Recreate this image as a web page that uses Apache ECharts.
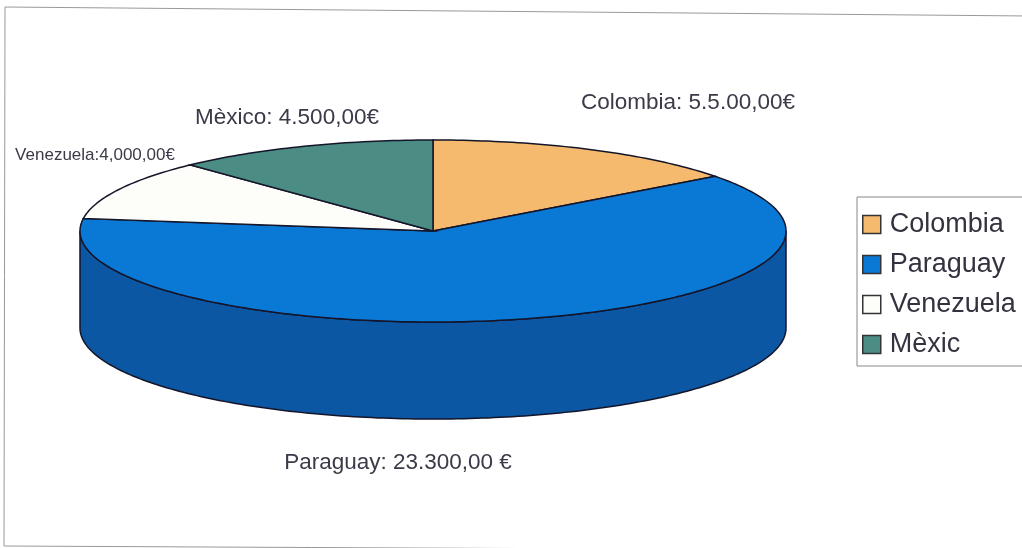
<!DOCTYPE html>
<html>
<head>
<meta charset="utf-8">
<script src="https://cdn.jsdelivr.net/npm/echarts@6/dist/echarts.min.js"></script>
<style>
  html, body { margin: 0; padding: 0; background: #fff; }
  #main { width: 1022px; height: 548px; }
</style>
</head>
<body>
<div id="main"></div>
<script>
// dades
const countries = ['Colombia', 'Paraguay', 'Venezuela', 'Mèxic'];
const amounts = [5500, 23300, 4000, 4500];
const labelTexts = ['Colombia: 5.5.00,00€', 'Paraguay: 23.300,00 €', 'Venezuela:4,000,00€', 'Mèxico: 4.500,00€'];

const topColors = ['#F5BA6E', '#0A79D6', '#FDFDF9', '#4B8C84'];
const sideColors = ['#C8924C', '#0B57A3', '#D8D8D0', '#356A63'];

// el·lipse del pastís 3D
const cx = 433, cy = 231, rx = 353, ry = 91, depth = 97;
const total = amounts.reduce((a, b) => a + b, 0);

function pt(deg, dy) {
  const t = deg * Math.PI / 180;
  return [cx + rx * Math.sin(t), cy - ry * Math.cos(t) + (dy || 0)];
}

function sliceRange(i) {
  let start = 0;
  for (let k = 0; k < i; k++) start += amounts[k] / total * 360;
  return [start, start + amounts[i] / total * 360];
}

function renderSlice(idx) {
  return function (params, api) {
    const [a0, a1] = sliceRange(idx);
    const children = [];
    // paret lateral (només la meitat de davant)
    const s = Math.max(a0, 90), e = Math.min(a1, 270);
    if (e > s) {
      const pts = [];
      for (let d = s; d <= e; d += 1) pts.push(pt(d));
      pts.push(pt(e));
      const back = [];
      for (let d = e; d >= s; d -= 1) back.push(pt(d, depth));
      back.push(pt(s, depth));
      children.push({
        type: 'polygon',
        shape: { points: pts.concat(back) },
        style: { fill: sideColors[idx], stroke: '#15152a', lineWidth: 1.5 }
      });
    }
    // cara de dalt
    const top = [[cx, cy]];
    for (let d = a0; d <= a1; d += 1) top.push(pt(d));
    top.push(pt(a1));
    children.push({
      type: 'polygon',
      shape: { points: top },
      style: { fill: topColors[idx], stroke: '#15152a', lineWidth: 1.5 }
    });
    return { type: 'group', children: children };
  };
}

const labelPos = [[688, 103], [398, 463], [95, 155], [287, 118]];
const labelSize = [22.5, 22.5, 17, 22.5];

let myChart = echarts.init(document.getElementById('main'));
myChart.setOption({
  backgroundColor: '#fff',
  animation: false,
  legend: {
    data: countries,
    orient: 'vertical',
    left: 857,
    top: 197,
    padding: [14, 10, 8, 5],
    itemGap: 13,
    itemWidth: 18,
    itemHeight: 18,
    icon: 'rect',
    borderColor: '#888',
    borderWidth: 1,
    backgroundColor: '#fff',
    itemStyle: { borderColor: '#333', borderWidth: 1.5 },
    textStyle: { fontFamily: 'Liberation Sans, Arial', fontSize: 27, lineHeight: 27, color: '#333340', padding: [0, 0, 0, 4] }
  },
  graphic: [
    {
      type: 'polygon',
      silent: true,
      shape: { points: [[5, 7], [1030, 16], [1030, 551], [4, 546]] },
      style: { fill: 'none', stroke: '#999', lineWidth: 1 },
      z: -10
    }
  ].concat(labelTexts.map((t, i) => ({
    type: 'text',
    x: labelPos[i][0],
    y: labelPos[i][1],
    style: {
      text: t,
      align: 'center',
      verticalAlign: 'middle',
      fontFamily: 'Liberation Sans, Arial',
      fontSize: labelSize[i],
      fill: '#3a3a48'
    }
  }))),
  series: countries.map((name, i) => ({
    name: name,
    type: 'custom',
    coordinateSystem: 'none',
    itemStyle: { color: topColors[i] },
    renderItem: renderSlice(i),
    data: [[amounts[i]]]
  }))
});
</script>
</body>
</html>
